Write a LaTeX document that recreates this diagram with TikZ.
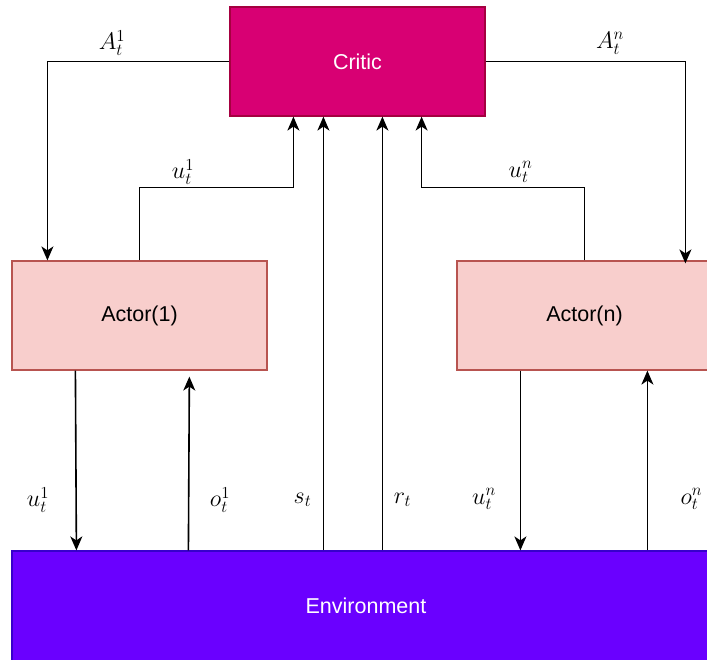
\documentclass[tikz,border=0pt]{standalone}
\usepackage{fix-cm}
\usepackage{fontspec}
\setsansfont{Liberation Sans}
\usetikzlibrary{arrows.meta,calc}

\definecolor{criticfill}{HTML}{D80073}
\definecolor{criticline}{HTML}{A50040}
\definecolor{actorfill}{HTML}{F8CECC}
\definecolor{actorline}{HTML}{B85450}
\definecolor{envfill}{HTML}{6A00FF}
\definecolor{envline}{HTML}{3700CC}

\tikzset{
  block/.style={rectangle, draw, line width=1.2pt, minimum width=255pt,
    minimum height=109pt, inner sep=0pt, font=\sffamily\fontsize{21.5}{25}\selectfont},
  criticbox/.style={block, fill=criticfill, draw=criticline, text=white},
  actorbox/.style={block, fill=actorfill, draw=actorline, text=black},
  envbox/.style={block, fill=envfill, draw=envline, text=white, minimum width=708pt, minimum height=110pt},
  arr/.style={-{Stealth[length=14pt,width=12pt,inset=4pt]}, line width=1.6pt, black},
  lbl/.style={inner sep=0pt, font=\fontsize{24}{28}\selectfont},
}

\begin{document}
\begin{tikzpicture}[x=1pt,y=-1pt]
  \useasboundingbox (0,0) rectangle (707,659);

  % blocks
  \node[criticbox] (critic) at (357.5,61.5) {Critic};
  \node[actorbox] (actor1) at (139.5,315.5) {Actor(1)};
  \node[actorbox] (actorn) at (584.5,315.5) {Actor(n)};
  \node[envbox] (env) at (366,606) {Environment};

  % advantage signals from the critic to the actors
  \draw[arr] (critic.west) -| ([xshift=36pt]actor1.north west);
  \draw[arr] (critic.east) -| ([xshift=229pt,yshift=-3pt]actorn.north west);

  % actions reported to the critic
  \draw[arr] (actor1.north) -- ++(0,-73) -| ([xshift=64pt]critic.south west);
  \draw[arr] (actorn.north) -- ++(0,-73) -| ([xshift=-64pt]critic.south east);

  % actor <-> environment
  \draw[arr] ([xshift=64pt]actor1.south west) -- ([xshift=65pt]actor1.south west |- env.north);
  \draw[arr, shorten >=6pt] ([xshift=177pt]env.north west) -- ([xshift=178pt]env.north west |- actor1.south);
  \draw[arr] ([xshift=64pt]actorn.south west) -- ([xshift=64pt]actorn.south west |- env.north);
  \draw[arr] ([xshift=636pt]env.north west) -- ([xshift=636pt]env.north west |- actorn.south);

  % state and reward to the critic
  \draw[arr] ([xshift=312pt]env.north west) -- ([xshift=312pt]env.north west |- critic.south);
  \draw[arr] ([xshift=371pt]env.north west) -- ([xshift=371pt]env.north west |- critic.south);

  % labels
  \node[lbl] (lA1) at (112,43) {$A_t^1$};
  \node[lbl] (lAn) at (610,43) {$A_t^n$};
  \node[lbl] (lu1top) at (183,172) {$u_t^1$};
  \node[lbl] (luntop) at (520.5,172) {$u_t^n$};
  \node[lbl] (lu1) at (38,500) {$u_t^1$};
  \node[lbl] (lo1) at (220,500) {$o_t^1$};
  \node[lbl] (ls) at (302.5,500) {$s_t$};
  \node[lbl] (lr) at (402.5,500) {$r_t$};
  \node[lbl] (lun) at (484,499) {$u_t^n$};
  \node[lbl] (lon) at (691.5,499) {$o_t^n$};
\end{tikzpicture}
\end{document}
